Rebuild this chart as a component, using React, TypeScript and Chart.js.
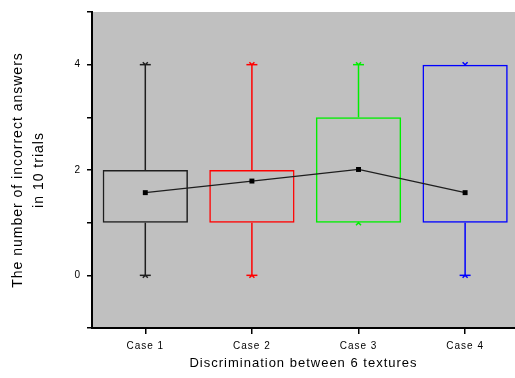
import { useEffect, useRef } from 'react';
import { Chart, registerables } from 'chart.js';

Chart.register(...registerables);

const categories = ['Case 1', 'Case 2', 'Case 3', 'Case 4'];
const positions = [1, 2, 3, 4];
const mins = [0, 0, 1, 0];
const q1s = [1, 1, 1, 1];
const q3s = [2, 2, 3, 4];
const maxs = [4, 4, 4, 4];
const means = [1.57, 1.79, 2.01, 1.57];
const boxColors = ['#1e1e1e', '#ff0000', '#00ee00', '#0000ff'];
const yTickValues = [-1, 0, 1, 2, 3, 4, 5];
const yTickLabels = ['', '0', '', '2', '', '4', ''];
const xTitle = 'Discrimination between 6 textures';
const yTitle = ['The number of incorrect answers', 'in 10 trials'];

const FONT = "'Liberation Sans', Arial, sans-serif";

const bgPlugin = {
  id: 'bg',
  beforeDraw(chart: any) {
    const { ctx, chartArea: a } = chart;
    ctx.letterSpacing = '1px';
    ctx.save();
    ctx.fillStyle = '#c0c0c0';
    ctx.fillRect(a.left, a.top, a.right - a.left, a.bottom - a.top);
    ctx.restore();
  },
};

const whiskerPlugin = {
  id: 'whiskers',
  beforeDatasetsDraw(chart: any) {
    const { ctx } = chart;
    const xs = chart.scales.x;
    const ys = chart.scales.y;
    ctx.save();
    ctx.lineWidth = 1.5;
    positions.forEach((p, i) => {
      const px = xs.getPixelForValue(p);
      ctx.strokeStyle = boxColors[i];
      const segs: [number, number][] = [
        [q3s[i], maxs[i]],
        [q1s[i], mins[i]],
      ];
      segs.forEach(([from, to], k) => {
        const y0 = ys.getPixelForValue(from);
        const y1 = ys.getPixelForValue(to);
        ctx.beginPath();
        ctx.moveTo(px, y0);
        ctx.lineTo(px, y1);
        ctx.stroke();
        const dir = k === 0 ? 1 : -1;
        if (from !== to) {
          ctx.beginPath();
          ctx.moveTo(px - 5.5, y1);
          ctx.lineTo(px + 5.5, y1);
          ctx.stroke();
        }
        ctx.beginPath();
        ctx.moveTo(px - 2.5, y1 - 2.5 * dir);
        ctx.lineTo(px, y1);
        ctx.lineTo(px + 2.5, y1 - 2.5 * dir);
        ctx.stroke();
      });
    });
    ctx.restore();
  },
};

export default function App() {
  const ref = useRef<HTMLCanvasElement | null>(null);
  useEffect(() => {
    if (!ref.current) return;
    const chart = new Chart(ref.current, {
      type: 'bar',
      data: {
        datasets: [
          {
            type: 'bar',
            data: positions.map((p, i) => ({ x: p, y: [q1s[i], q3s[i]] })) as any,
            backgroundColor: 'rgba(0,0,0,0)',
            borderColor: boxColors,
            borderWidth: 1.5,
            borderSkipped: false,
            barPercentage: 0.8,
            categoryPercentage: 1,
            order: 2,
          },
          {
            type: 'line',
            data: positions.map((p, i) => ({ x: p, y: means[i] })) as any,
            borderColor: '#1e1e1e',
            borderWidth: 1.3,
            backgroundColor: '#000',
            pointStyle: 'rect',
            pointRadius: 3.5,
            pointBorderWidth: 0,
            tension: 0,
            order: 1,
          } as any,
        ],
      },
      options: {
        animation: false,
        responsive: true,
        maintainAspectRatio: false,
        layout: { autoPadding: false, padding: { top: 10, right: 0, left: 0, bottom: 0 } } as any,
        plugins: { legend: { display: false }, tooltip: { enabled: false } },
        scales: {
          x: {
            type: 'linear',
            min: 0.5,
            max: 4.468,
            offset: false,
            grid: { display: true, offset: false, drawOnChartArea: false, drawTicks: true, tickLength: 6, color: '#000', lineWidth: 1.5 },
            border: { display: true, color: '#000', width: 2 },
            afterBuildTicks(scale: any) {
              scale.ticks = positions.map((v) => ({ value: v }));
            },
            afterFit(scale: any) {
              scale.height = 50;
            },
            ticks: {
              color: '#000',
              padding: 6,
              maxRotation: 0,
              autoSkip: false,
              font: { family: FONT, size: 10 },
              callback: (v: any) => {
                const i = positions.indexOf(Number(v));
                return i >= 0 ? categories[i] : '';
              },
            },
            title: {
              display: true,
              text: xTitle,
              color: '#000',
              font: { family: FONT, size: 13 },
              padding: { top: 0, bottom: 7 },
            },
          },
          y: {
            type: 'linear',
            min: -1,
            max: 5,
            grid: { display: true, drawOnChartArea: false, drawTicks: true, tickLength: 5, color: '#000', lineWidth: 1.5 },
            border: { display: true, color: '#000', width: 2 },
            afterBuildTicks(scale: any) {
              scale.ticks = yTickValues.map((v) => ({ value: v }));
            },
            afterFit(scale: any) {
              scale.width = 92;
            },
            ticks: {
              color: '#000',
              padding: 6,
              font: { family: FONT, size: 10 },
              callback: (v: any) => {
                const i = yTickValues.indexOf(Number(v));
                return i >= 0 ? yTickLabels[i] : '';
              },
            },
            title: {
              display: true,
              text: yTitle,
              color: '#000',
              font: { family: FONT, size: 14, lineHeight: 1.5 },
              padding: { top: 8, bottom: 0 },
            },
          },
        },
      },
      plugins: [bgPlugin, whiskerPlugin],
    });
    return () => chart.destroy();
  }, []);
  return (
    <div style={{ position: 'absolute', left: 0, top: 0, width: 515, height: 378, background: '#fff' }}>
      <canvas ref={ref} />
    </div>
  );
}
